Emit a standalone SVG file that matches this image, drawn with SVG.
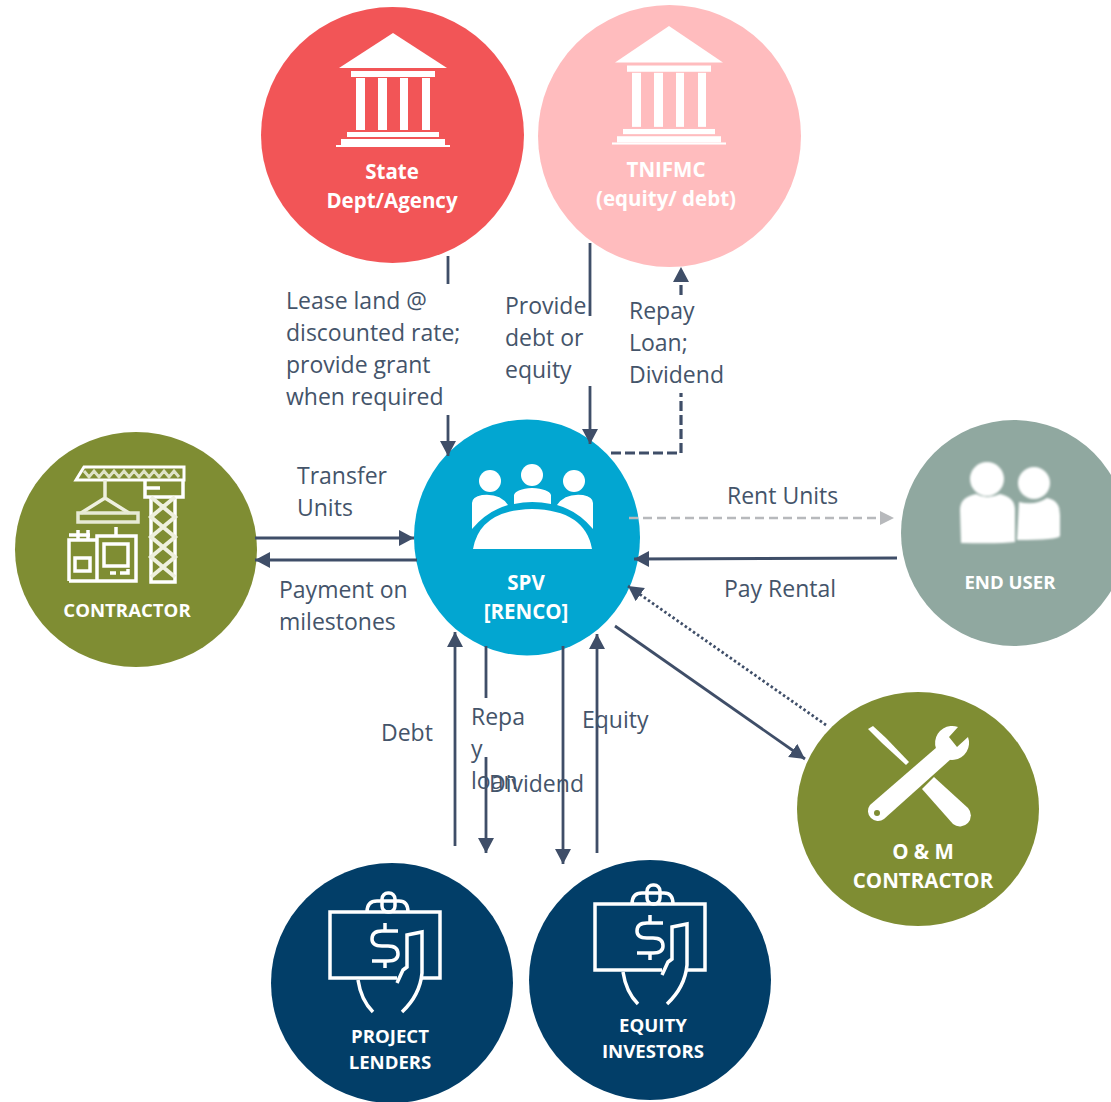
<svg xmlns="http://www.w3.org/2000/svg" width="1111" height="1102" viewBox="0 0 1111 1102">
<style>
.lbl{font-family:"Open Sans","Liberation Sans",sans-serif;font-size:23px;fill:#44546a}
.nt{font-family:"Open Sans","Liberation Sans",sans-serif;font-weight:700;font-size:20.500px;fill:#fff;text-anchor:middle}
.sm{font-size:18.600px}
.c{fill:none;stroke:#3f4e68;stroke-width:2.800px}
.w{fill:#fff;stroke:none}
.o{fill:none;stroke:#fff;stroke-width:3.500px}
</style>
<defs>
<marker id="a" markerUnits="userSpaceOnUse" markerWidth="18" markerHeight="18" refX="15" refY="8" orient="auto"><path d="M0 0L15 8L0 16Z" fill="#3f4e68"/></marker>
<marker id="g" markerUnits="userSpaceOnUse" markerWidth="18" markerHeight="18" refX="14" refY="7" orient="auto"><path d="M0 0L14 7L0 14Z" fill="#b7b9bc"/></marker>
<filter id="b"><feGaussianBlur stdDeviation="0.8"/></filter>
<g id="bank">
<path class="w" d="M0 0L54 35H-54Z"/>
<rect class="w" x="-42" y="38" width="84" height="6"/>
<rect class="w" x="-37" y="45" width="9" height="52"/><rect class="w" x="-15" y="45" width="9" height="52"/><rect class="w" x="7" y="45" width="8" height="52"/><rect class="w" x="29" y="45" width="8" height="52"/>
<rect class="w" x="-46" y="99" width="92" height="5"/><rect class="w" x="-52" y="106" width="104" height="6"/><rect class="w" x="-57" y="112" width="114" height="2"/>
</g>
<g id="money">
<g class="o">
<rect x="-55" y="-33" width="110" height="66" rx="3" style="stroke:none"/>
<path d="M12 33H-55V-33H55V33H37"/>
<path d="M-18-33Q-18-44-8-44H14Q23-44 23-33"/>
<rect x="-3" y="-52" width="13" height="19" rx="6"/>
<path d="M13-14H-3Q-13-14-13-6Q-13 1-3 1H3Q13 1 13 9Q13 16 3 16H-13M0-22V-14M0 16V23"/>
<path d="M12 38L18 25L22 22V-10L37-13V28Q35 50 17 67"/>
<path d="M-27 35Q-24 55-12 67"/>
</g>
</g>
</defs>
<g id="state"><ellipse cx="392.500" cy="135" rx="131.500" ry="128" fill="#f25557"/>
<use href="#bank" x="393" y="33"/>
<text class="nt" x="392" y="179">State</text><text class="nt" x="392" y="208">Dept/Agency</text></g>
<g id="tnifmc"><ellipse cx="669.500" cy="136" rx="131.500" ry="131" fill="#ffbcbe"/>
<use href="#bank" transform="translate(669 26) scale(1 1.040)"/>
<text class="nt" x="666" y="177">TNIFMC</text><text class="nt" x="666" y="206">(equity/ debt)</text></g>
<g id="contractor"><ellipse cx="136" cy="549.500" rx="121" ry="117.500" fill="#7f8d33"/>
<g fill="none" stroke="#fff" stroke-width="3.500">
<path d="M76 480L84 467H184V480Z" stroke-width="3"/>
<path d="M84 471l5 6 5-6 5 6 5-6 5 6 5-6 5 6 5-6 5 6 5-6 5 6 5-6 5 6 5-6 5 6 5-6 5 6 5-6 5 6" stroke="#dfe3c8" stroke-width="3"/>
<path d="M145 480V497H183V480M145 488H160"/>
<path d="M151 497V582H175V497"/>
<path d="M151 497L175 517L151 537L175 557L151 577M175 497L151 517L175 537L151 557L175 577" stroke="#eef0de" stroke-width="4"/>
<path d="M105 480V498M105 498L81 513M105 498L129 513" stroke="#eef0de"/>
<rect x="78" y="513" width="60" height="9" stroke="#e7ead5"/>
<path d="M69 581V540H97M69 581H136V536H97V581M116 527v9M78 540V530M88 540V530M69 535H90"/>
<rect x="104" y="544" width="24" height="22"/><rect x="75" y="558" width="15" height="13"/>
<path d="M110 573h6M120 573h8v-4"/>
</g>
<text class="nt sm" x="127" y="617">CONTRACTOR</text></g>
<g id="spv"><ellipse cx="527" cy="537.500" rx="113" ry="118" fill="#02a6d1"/>
<circle class="w" cx="490" cy="481" r="11"/><circle class="w" cx="532" cy="475" r="11"/><circle class="w" cx="574" cy="481" r="11"/>
<path class="w" d="M472 529V503Q472 497 482 495Q500 493 508 505Q487 511 472 529Z"/>
<path class="w" d="M514 504V495Q516 489 532 488Q549 489 551 495V504Q532 500 514 504Z"/>
<path class="w" d="M593 529V503Q593 497 583 495Q565 493 557 505Q578 511 593 529Z"/>
<path class="w" d="M473 549Q480 510 532 509Q585 510 592 549Z"/>
<text class="nt" x="526" y="590">SPV</text><text class="nt" x="526" y="619">[RENCO]</text></g>
<g id="enduser"><circle cx="1014" cy="533" r="113" fill="#90a8a0"/>
<g filter="url(#b)">
<circle class="w" cx="987" cy="479" r="17"/><circle class="w" cx="1034" cy="483" r="16"/>
<path class="w" d="M960 510Q960 497 976 494Q987 500 1000 494Q1015 497 1015 510V542Q1000 544 961 543Z"/>
<path class="w" d="M1019 502Q1035 506 1047 498Q1060 500 1060 515V536Q1058 540 1017 540Z"/>
</g>
<text class="nt sm" x="1010" y="589">END USER</text></g>
<g id="om"><ellipse cx="918" cy="809" rx="121" ry="117" fill="#7f8d33"/>
<path class="w" d="M868 729L873 726L886 738L909 762L906 765L882 743Z"/>
<path class="w" d="M934 777L968 808A11 11 0 0 1 953 824L922 789Z"/>
<path class="w" d="M958 727L949 737L957 747L968 737A17 17 0 1 1 958 727Z"/>
<path class="w" d="M937 747L870 805A10 10 0 0 0 884 819L951 759Z"/>
<circle cx="877" cy="813" r="3" fill="#7f8d33"/>
<text class="nt" x="923" y="859">O &amp; M</text><text class="nt" x="923" y="888">CONTRACTOR</text></g>
<g id="lenders"><ellipse cx="392" cy="983" rx="121" ry="120" fill="#023e68"/>
<use href="#money" x="385" y="945"/>
<text class="nt sm" x="390" y="1043">PROJECT</text><text class="nt sm" x="390" y="1069">LENDERS</text></g>
<g id="equity"><ellipse cx="650" cy="980" rx="121" ry="120" fill="#023e68"/>
<use href="#money" x="650" y="937"/>
<text class="nt sm" x="653" y="1032">EQUITY</text><text class="nt sm" x="653" y="1058">INVESTORS</text></g>
<g id="connectors">
<path class="c" d="M448 256V284M448 415V456" marker-end="url(#a)"/>
<path class="c" d="M590 243V316M590 386V444" marker-end="url(#a)"/>
<path class="c" d="M611 453H681V393" style="stroke-dasharray:10 4;stroke-width:3.200px"/>
<path class="c" d="M681 295V267" style="stroke-dasharray:10 4;stroke-width:3.200px" marker-end="url(#a)"/>
<path class="c" d="M255 538H414" marker-end="url(#a)"/>
<path class="c" d="M417 560H255" marker-end="url(#a)"/>
<path d="M629 518H894" fill="none" stroke="#b7b9bc" stroke-width="2.500" stroke-dasharray="9 5" marker-end="url(#g)"/>
<path class="c" d="M897 558L634 559" marker-end="url(#a)"/>
<path class="c" d="M826 725L628 586" style="stroke-dasharray:2.500 2.500" marker-end="url(#a)"/>
<path class="c" d="M615 626L805 759" marker-end="url(#a)"/>
<path class="c" d="M455 846V632" marker-end="url(#a)"/>
<path class="c" d="M486 646V698M486 757V853" marker-end="url(#a)"/>
<path class="c" d="M563 646V864" marker-end="url(#a)"/>
<path class="c" d="M597 853V634" marker-end="url(#a)"/>
</g>
<g id="labels">
<text class="lbl" x="286" y="309">Lease land @</text><text class="lbl" x="286" y="341">discounted rate;</text><text class="lbl" x="286" y="373">provide grant</text><text class="lbl" x="286" y="405">when required</text>
<text class="lbl" x="505" y="314">Provide</text><text class="lbl" x="505" y="346">debt or</text><text class="lbl" x="505" y="378">equity</text>
<text class="lbl" x="629" y="319">Repay</text><text class="lbl" x="629" y="351">Loan;</text><text class="lbl" x="629" y="383">Dividend</text>
<text class="lbl" x="297" y="484">Transfer</text><text class="lbl" x="297" y="516">Units</text>
<text class="lbl" x="279" y="598">Payment on</text><text class="lbl" x="279" y="630">milestones</text>
<text class="lbl" x="727" y="504">Rent Units</text><text class="lbl" x="724" y="597">Pay Rental</text>
<text class="lbl" x="381" y="741">Debt</text>
<text class="lbl" x="471" y="725">Repa</text><text class="lbl" x="471" y="757">y</text><text class="lbl" x="471" y="789">loan</text>
<text class="lbl" x="489" y="792">Dividend</text><text class="lbl" x="582" y="728">Equity</text>
</g>
</svg>
